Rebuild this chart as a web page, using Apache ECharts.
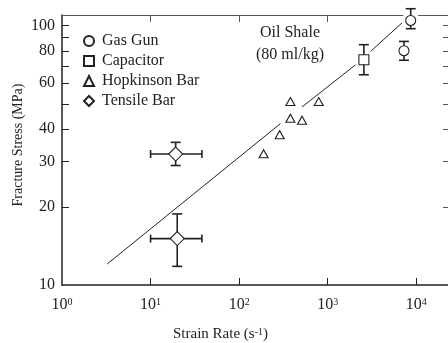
<!DOCTYPE html>
<html>
<head>
<meta charset="utf-8">
<script src="https://cdn.jsdelivr.net/npm/echarts@6/dist/echarts.min.js"></script>
<style>
  html, body { margin: 0; padding: 0; background: #fff; }
  #chart { width: 448px; height: 343px; }
</style>
</head>
<body>
<div id="chart"></div>
<script>
// tick values
var strainTicks = [1, 10, 100, 1000, 10000];
var stressLabels = [10, 20, 30, 40, 60, 80, 100];
var stressTicks = [20, 30, 40, 50, 60, 70, 80, 90, 100];

// gas gun: rate, stress, stress low / high
var gasRate = [8650, 7260];
var gasStress = [104.8, 80.1];
var gasLow = [97.4, 73.6];
var gasHigh = [116.3, 87.0];

// capacitor
var capRate = [2560];
var capStress = [73.9];
var capLow = [64.7];
var capHigh = [84.5];

// hopkinson bar
var hopRate = [189, 287, 379, 379, 513, 792];
var hopStress = [32.1, 38, 44, 51, 43.2, 51];

// tensile bar, error in both directions
var tenRate = [19.2, 20];
var tenStress = [32, 15.1];
var tenLow = [28.9, 11.8];
var tenHigh = [35.5, 18.8];
var tenRateLow = [10, 10];
var tenRateHigh = [38, 38];

// fitted line, drawn in three pieces
var fitRate = [[3.24, 292], [513, 2063], [3050, 7000]];
var fitStress = [[12.05, 41.9], [48.6, 70.7], [79.6, 103]];

var ink = '#222';
var font = 'Liberation Serif';

function pts(xs, ys) {
    return xs.map(function(x, i) { return [x, ys[i]]; });
}

function errData(xs, ys, lo, hi, xlo, xhi) {
    return xs.map(function(x, i) {
        return [x, ys[i], lo[i], hi[i], xlo ? xlo[i] : '-', xhi ? xhi[i] : '-'];
    });
}

function errRender(halo) {
    return function(params, api) {
        var x = api.value(0), y = api.value(1);
        var c = api.coord([x, y]);
        var kids = [];
        var st = { stroke: ink, lineWidth: 1.6 };
        if (halo) {
            kids.push({ type: 'circle', shape: { cx: c[0], cy: c[1], r: 9 }, style: { fill: '#fff' } });
        }
        var cap = 5;
        var lo = api.value(2), hi = api.value(3);
        if (!isNaN(lo)) {
            var pl = api.coord([x, lo]), ph = api.coord([x, hi]);
            kids.push({ type: 'line', shape: { x1: c[0], y1: pl[1], x2: c[0], y2: ph[1] }, style: st });
            kids.push({ type: 'line', shape: { x1: c[0] - cap, y1: pl[1], x2: c[0] + cap, y2: pl[1] }, style: st });
            kids.push({ type: 'line', shape: { x1: c[0] - cap, y1: ph[1], x2: c[0] + cap, y2: ph[1] }, style: st });
        }
        var xl = api.value(4), xh = api.value(5);
        if (!isNaN(xl)) {
            var ql = api.coord([xl, y]), qh = api.coord([xh, y]);
            kids.push({ type: 'line', shape: { x1: ql[0], y1: c[1], x2: qh[0], y2: c[1] }, style: st });
            kids.push({ type: 'line', shape: { x1: ql[0], y1: c[1] - 4, x2: ql[0], y2: c[1] + 4 }, style: st });
            kids.push({ type: 'line', shape: { x1: qh[0], y1: c[1] - 4, x2: qh[0], y2: c[1] + 4 }, style: st });
        }
        return { type: 'group', children: kids };
    };
}

function markStyle() {
    return { color: '#fff', borderColor: ink, borderWidth: 1.1, opacity: 1 };
}

var myChart = echarts.init(document.getElementById('chart'), null, { renderer: 'canvas' });

var series = [];
fitRate.forEach(function(xs, i) {
    series.push({
        type: 'line',
        data: pts(xs, fitStress[i]),
        symbol: 'none',
        lineStyle: { color: ink, width: 1 },
        silent: true,
        z: 1
    });
});
series.push({
    type: 'custom', renderItem: errRender(true), clip: false, z: 3,
    data: errData(gasRate, gasStress, gasLow, gasHigh)
});
series.push({
    type: 'custom', renderItem: errRender(false), clip: false, z: 3,
    data: errData(capRate, capStress, capLow, capHigh)
});
series.push({
    type: 'custom', renderItem: errRender(false), clip: false, z: 3,
    data: errData(tenRate, tenStress, tenLow, tenHigh, tenRateLow, tenRateHigh)
});
series.push({
    name: 'Gas Gun', type: 'scatter', symbol: 'circle', symbolSize: 10, z: 5,
    itemStyle: markStyle(), data: pts(gasRate, gasStress)
});
series.push({
    name: 'Capacitor', type: 'scatter', symbol: 'rect', symbolSize: 10, z: 5,
    itemStyle: markStyle(), data: pts(capRate, capStress)
});
series.push({
    name: 'Hopkinson Bar', type: 'scatter', symbol: 'triangle', symbolSize: [9, 8], z: 5,
    itemStyle: markStyle(), data: pts(hopRate, hopStress)
});
series.push({
    name: 'Tensile Bar', type: 'scatter', symbol: 'diamond', symbolSize: 14, z: 5,
    itemStyle: markStyle(), data: pts(tenRate, tenStress)
});

var supRich = { s: { fontSize: 10, fontFamily: font, color: ink, verticalAlign: 'top', lineHeight: 14 } };

var option = {
    backgroundColor: '#fff',
    animation: false,
    textStyle: { fontFamily: font },
    grid: { left: 62, right: -1, top: 15, bottom: 58, outerBoundsMode: 'none', containLabel: false },
    legend: {
        orient: 'vertical',
        left: 78, top: 28,
        itemWidth: 10, itemHeight: 10, itemGap: 4,
        selectedMode: false,
        textStyle: { fontFamily: font, fontSize: 16, color: ink, lineHeight: 16, padding: [0, 0, 0, 3] },
        data: ['Gas Gun', 'Capacitor', 'Hopkinson Bar', 'Tensile Bar']
    },
    graphic: [
        { type: 'text', x: 290, y: 25, style: { text: 'Oil Shale', font: '16px "Liberation Serif"', fill: ink, align: 'center' } },
        { type: 'text', x: 290, y: 47, style: { text: '(80 ml/kg)', font: '16px "Liberation Serif"', fill: ink, align: 'center' } }
    ],
    xAxis: [{
        type: 'log', position: 'bottom', min: 1, max: 23420,
        name: 'Strain Rate (s{s|-1})', nameLocation: 'middle', nameGap: 42,
        nameTextStyle: { fontFamily: font, fontSize: 15, color: ink, rich: supRich, padding: [0, 70, 0, 0] },
        axisLine: { lineStyle: { color: ink, width: 1.5 } },
        axisTick: { inside: true, length: 7, lineStyle: { color: ink }, customValues: [10, 100, 1000, 10000] },
        axisLabel: {
            customValues: strainTicks, margin: 12,
            fontFamily: font, fontSize: 16, color: ink, rich: supRich,
            formatter: function(v) { return '10{s|' + Math.round(Math.log10(v)) + '}'; }
        },
        splitLine: { show: false }
    }, {
        type: 'log', position: 'top', min: 1, max: 23420,
        axisLine: { lineStyle: { color: '#555', width: 1 } },
        axisTick: { inside: true, length: 7, lineStyle: { color: '#555' }, customValues: [10, 100, 1000, 10000] },
        axisLabel: { show: false },
        splitLine: { show: false }
    }],
    yAxis: [{
        type: 'log', position: 'left', min: 10, max: 110,
        name: 'Fracture Stress (MPa)', nameLocation: 'middle', nameGap: 37, nameMoveOverlap: false,
        nameTextStyle: { fontFamily: font, fontSize: 14, color: ink, padding: [0, 0, 0, 10] },
        axisLine: { show: true, lineStyle: { color: ink, width: 1.5 } },
        axisTick: { show: true, inside: true, length: 7, lineStyle: { color: ink }, customValues: stressTicks },
        axisLabel: { customValues: stressLabels, margin: 7, fontFamily: font, fontSize: 16, color: ink },
        splitLine: { show: false }
    }, {
        type: 'log', position: 'right', min: 10, max: 110,
        axisLine: { show: true, lineStyle: { color: '#555', width: 1 } },
        axisTick: { show: true, inside: true, length: 6, lineStyle: { color: '#555' }, customValues: stressTicks },
        axisLabel: { show: false },
        splitLine: { show: false }
    }],
    series: series
};
myChart.setOption(option);
</script>
</body>
</html>
